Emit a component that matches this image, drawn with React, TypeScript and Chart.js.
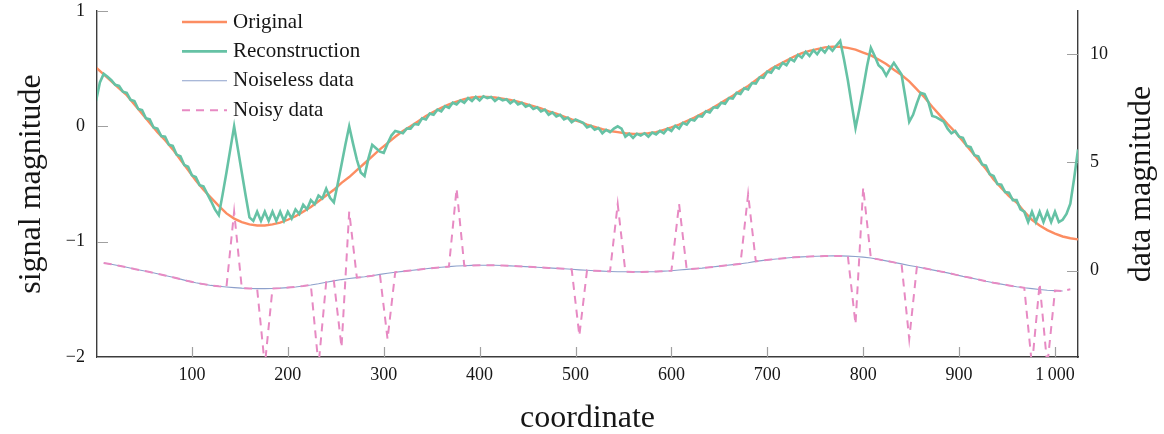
import React, { useEffect, useRef } from "react";
import { Chart, registerables } from "chart.js";

Chart.register(...registerables);

const FONT = "'Liberation Serif', 'DejaVu Serif', serif";

// ---- tick values ----
const xTickValues = [100, 200, 300, 400, 500, 600, 700, 800, 900, 1000];
const leftTickValues = [-2, -1, 0, 1];
const rightTickValues = [0, 5, 10];

// ---- series labels ----
const seriesLabels = ["Original", "Reconstruction", "Noiseless data", "Noisy data"];

// ---- Original signal (left axis), x = 0..1024 step 8 ----
const originalStart = 0;
const originalStep = 8;
const originalValues = [
  0.51, 0.45, 0.39, 0.33, 0.27, 0.19, 0.11, 0.03,
  -0.05, -0.12, -0.2, -0.29, -0.38, -0.47, -0.55, -0.62,
  -0.69, -0.755, -0.8, -0.83, -0.85, -0.86, -0.86, -0.85,
  -0.835, -0.81, -0.78, -0.74, -0.7, -0.65, -0.6, -0.55,
  -0.49, -0.44, -0.38, -0.32, -0.26, -0.2, -0.145, -0.09,
  -0.04, 0.0, 0.045, 0.09, 0.125, 0.16, 0.19, 0.215,
  0.235, 0.25, 0.255, 0.255, 0.25, 0.24, 0.23, 0.215,
  0.195, 0.175, 0.155, 0.13, 0.11, 0.085, 0.06, 0.04,
  0.015, -0.005, -0.025, -0.04, -0.05, -0.06, -0.065, -0.065,
  -0.06, -0.05, -0.03, -0.01, 0.015, 0.045, 0.075, 0.11,
  0.145, 0.185, 0.225, 0.265, 0.31, 0.35, 0.4, 0.45,
  0.5, 0.535, 0.57, 0.605, 0.635, 0.655, 0.67, 0.685,
  0.69, 0.69, 0.68, 0.665, 0.64, 0.615, 0.58, 0.54,
  0.49, 0.445, 0.39, 0.32, 0.25, 0.17, 0.095, 0.02,
  -0.05, -0.13, -0.21, -0.29, -0.37, -0.46, -0.535, -0.605,
  -0.66, -0.74, -0.81, -0.86, -0.9, -0.93, -0.955, -0.97,
  -0.98,
];

// ---- Reconstruction (left axis), x = 0..1024 step 4 ----
const reconStart = 0;
const reconStep = 4;
const reconstructionValues = [
  0.22, 0.38, 0.455, 0.43, 0.4, 0.36, 0.35, 0.3,
  0.29, 0.23, 0.22, 0.15, 0.14, 0.07, 0.06, -0.01,
  -0.02, -0.085, -0.09, -0.16, -0.17, -0.245, -0.26, -0.335,
  -0.35, -0.425, -0.44, -0.51, -0.52, -0.585, -0.65, -0.72,
  -0.77, -0.59, -0.4, -0.2, 0.0, -0.2, -0.4, -0.6,
  -0.79, -0.82, -0.74, -0.82, -0.74, -0.82, -0.74, -0.82,
  -0.74, -0.82, -0.74, -0.8, -0.72, -0.76, -0.68, -0.72,
  -0.64, -0.675, -0.6, -0.625, -0.54, -0.62, -0.66, -0.5,
  -0.33, -0.16, 0.0, -0.15, -0.29, -0.4, -0.43, -0.28,
  -0.16, -0.19, -0.22, -0.23, -0.15, -0.08, -0.04, -0.05,
  -0.06, -0.02, -0.02, 0.02, 0.015, 0.07, 0.06, 0.11,
  0.1, 0.145, 0.13, 0.175, 0.16, 0.205, 0.19, 0.225,
  0.205, 0.245, 0.22, 0.255, 0.225, 0.26, 0.245, 0.255,
  0.22, 0.245, 0.225, 0.235, 0.2, 0.225, 0.19, 0.205,
  0.17, 0.185, 0.15, 0.165, 0.13, 0.145, 0.1, 0.12,
  0.085, 0.1, 0.06, 0.075, 0.035, 0.06, 0.045, 0.03,
  -0.01, 0.005, -0.03, -0.015, -0.06, -0.03, -0.05, -0.02,
  0.0, -0.02, -0.09, -0.065, -0.1, -0.065, -0.08, -0.06,
  -0.09, -0.055, -0.07, -0.04, -0.06, -0.02, -0.04, 0.005,
  -0.02, 0.03, 0.015, 0.06, 0.05, 0.09, 0.085, 0.13,
  0.12, 0.165, 0.16, 0.205, 0.195, 0.245, 0.24, 0.29,
  0.28, 0.33, 0.32, 0.375, 0.37, 0.425, 0.42, 0.475,
  0.465, 0.515, 0.5, 0.55, 0.53, 0.585, 0.565, 0.62,
  0.595, 0.645, 0.61, 0.66, 0.625, 0.675, 0.64, 0.69,
  0.655, 0.7, 0.74, 0.58, 0.4, 0.19, -0.015, 0.15,
  0.33, 0.52, 0.68, 0.61, 0.53, 0.5, 0.44, 0.5,
  0.55, 0.5, 0.45, 0.25, 0.04, 0.1, 0.2, 0.29,
  0.28, 0.21, 0.09, 0.08, 0.06, 0.04, -0.02, -0.06,
  -0.04, -0.09, -0.1, -0.17, -0.18, -0.25, -0.26, -0.33,
  -0.34, -0.415, -0.43, -0.5, -0.505, -0.57, -0.575, -0.64,
  -0.64, -0.72, -0.74, -0.83, -0.74, -0.83, -0.74, -0.83,
  -0.74, -0.83, -0.74, -0.83, -0.81, -0.76, -0.67, -0.45,
  -0.2,
];

// ---- Noiseless data (right axis), x = 8..1008 step 8 ----
const dataStart = 8;
const dataStep = 8;
const noiselessValues = [
  0.35, 0.29, 0.22, 0.15, 0.07, 0.0, -0.07, -0.15,
  -0.23, -0.31, -0.4, -0.49, -0.57, -0.63, -0.69, -0.73,
  -0.76, -0.79, -0.815, -0.83, -0.84, -0.84, -0.83, -0.815,
  -0.79, -0.76, -0.72, -0.67, -0.61, -0.54, -0.48, -0.42,
  -0.37, -0.33, -0.29, -0.24, -0.18, -0.13, -0.08, -0.04,
  0.0, 0.04, 0.08, 0.12, 0.15, 0.18, 0.205, 0.22,
  0.235, 0.24, 0.24, 0.24, 0.23, 0.215, 0.2, 0.18,
  0.16, 0.14, 0.12, 0.1, 0.08, 0.055, 0.03, 0.01,
  -0.01, -0.03, -0.045, -0.055, -0.06, -0.065, -0.065, -0.06,
  -0.05, -0.03, -0.01, 0.02, 0.05, 0.08, 0.11, 0.15,
  0.19, 0.23, 0.27, 0.31, 0.36, 0.42, 0.47, 0.51,
  0.54, 0.58, 0.61, 0.63, 0.65, 0.66, 0.67, 0.675,
  0.675, 0.665, 0.65, 0.62, 0.575, 0.515, 0.445, 0.375,
  0.305, 0.235, 0.17, 0.1, 0.03, -0.04, -0.11, -0.19,
  -0.27, -0.34, -0.42, -0.5, -0.57, -0.63, -0.69, -0.75,
  -0.8, -0.84, -0.88, -0.91, -0.93, -0.95,
];

// ---- Noisy data (right axis), x = 8..1016 step 8 ----
const noisyValues = [
  0.35, 0.29, 0.22, 0.15, 0.07, 0.0, -0.07, -0.15,
  -0.23, -0.31, -0.4, -0.49, -0.57, -0.63, -0.69, -0.73,
  -0.76, 2.72, -0.815, -0.83, -0.84, -4.4, -0.83, -0.815,
  -0.79, -0.76, -0.72, -0.67, -4.4, -0.54, -0.48, -3.55,
  2.72, -0.33, -0.29, -0.24, -0.18, -3.17, -0.08, -0.04,
  0.0, 0.04, 0.08, 0.12, 0.15, 0.18, 3.79, 0.22,
  0.235, 0.24, 0.24, 0.24, 0.23, 0.215, 0.2, 0.18,
  0.16, 0.14, 0.12, 0.1, 0.08, 0.055, -3.01, 0.01,
  -0.01, -0.03, -0.045, 3.07, -0.06, -0.065, -0.065, -0.06,
  -0.05, -0.03, -0.01, 3.07, 0.05, 0.08, 0.11, 0.15,
  0.19, 0.23, 0.27, 0.31, 3.53, 0.42, 0.47, 0.51,
  0.54, 0.58, 0.61, 0.63, 0.65, 0.66, 0.67, 0.675,
  0.675, 0.665, -2.48, 3.84, 0.575, 0.515, 0.445, 0.375,
  0.305, -3.17, 0.17, 0.1, 0.03, -0.04, -0.11, -0.19,
  -0.27, -0.34, -0.42, -0.5, -0.57, -0.63, -0.69, -0.75,
  -0.8, -4.4, -0.6, -4.4, -0.93, -0.95, -0.87,
];

const toPoints = (start: number, step: number, values: number[]) =>
  values.map((v, i) => ({ x: start + i * step, y: v }));

const fmtX = (v: number) => (v >= 1000 ? String(v).replace(/(\d)(\d{3})$/, "$1\u2009$2") : String(v));
const fmtY = (v: number) => (v < 0 ? "\u2212" + Math.abs(v) : String(v));

const AXIS_COLOR = "#3c3c3c";
const TICK_COLOR = "#a0a0a0";
const TEXT_COLOR = "#161616";

const decorPlugin = {
  id: "decor",
  beforeDatasetsDraw(chart: any) {
    const { ctx, chartArea: ca, scales } = chart;
    ctx.save();
    ctx.strokeStyle = TICK_COLOR;
    ctx.lineWidth = 1.2;
    ctx.beginPath();
    xTickValues.forEach((v) => {
      const px = Math.round(scales.x.getPixelForValue(v)) + 0.5;
      ctx.moveTo(px, ca.bottom);
      ctx.lineTo(px, ca.bottom - 10);
    });
    leftTickValues.forEach((v) => {
      const py = Math.round(scales.y.getPixelForValue(v)) + 0.5;
      ctx.moveTo(ca.left, py);
      ctx.lineTo(ca.left + 11, py);
    });
    rightTickValues.forEach((v) => {
      const py = Math.round(scales.y2.getPixelForValue(v)) + 0.5;
      ctx.moveTo(ca.right, py);
      ctx.lineTo(ca.right - 11, py);
    });
    ctx.stroke();
    ctx.restore();
  },
  afterDraw(chart: any) {
    const { ctx, chartArea: ca } = chart;
    ctx.save();
    // axis titles
    ctx.fillStyle = TEXT_COLOR;
    ctx.font = `32px ${FONT}`;
    ctx.textAlign = "center";
    ctx.textBaseline = "alphabetic";
    ctx.fillText("coordinate", (ca.left + ca.right) / 2, 427);
    const cy = (ca.top + ca.bottom) / 2;
    ctx.save();
    ctx.translate(40, cy);
    ctx.rotate(-Math.PI / 2);
    ctx.fillText("signal magnitude", 0, 0);
    ctx.restore();
    ctx.save();
    ctx.translate(1150, cy);
    ctx.rotate(-Math.PI / 2);
    ctx.fillText("data magnitude", 0, 0);
    ctx.restore();

    // legend
    ctx.font = `21px ${FONT}`;
    ctx.textAlign = "left";
    chart.data.datasets.forEach((ds: any, i: number) => {
      const y = ca.top + 11 + i * 29.4;
      ctx.save();
      ctx.strokeStyle = ds.borderColor;
      ctx.lineWidth = ds.borderWidth;
      ctx.setLineDash(ds.borderDash || []);
      ctx.beginPath();
      ctx.moveTo(ca.left + 85, y);
      ctx.lineTo(ca.left + 130, y);
      ctx.stroke();
      ctx.restore();
      ctx.fillStyle = TEXT_COLOR;
      ctx.fillText(ds.label, ca.left + 136, y + 5.5);
    });
    ctx.restore();
  },
};

const fitVertical = (width: number) => (s: any) => {
  s.width = width;
  s.paddingTop = 0;
  s.paddingBottom = 0;
};

export default function App() {
  const ref = useRef<HTMLCanvasElement>(null);
  useEffect(() => {
    document.body.style.margin = "0";
    const tickFont = { family: FONT, size: 18 };
    const chart = new Chart(ref.current as HTMLCanvasElement, {
      type: "line",
      data: {
        datasets: [
          {
            label: seriesLabels[0],
            data: toPoints(originalStart, originalStep, originalValues),
            borderColor: "#fc8d62",
            borderWidth: 2.4,
            pointRadius: 0,
            yAxisID: "y",
            order: 4,
          },
          {
            label: seriesLabels[1],
            data: toPoints(reconStart, reconStep, reconstructionValues),
            borderColor: "#66c2a5",
            borderWidth: 2.6,
            pointRadius: 0,
            yAxisID: "y",
            order: 3,
          },
          {
            label: seriesLabels[2],
            data: toPoints(dataStart, dataStep, noiselessValues),
            borderColor: "#8da0cb",
            borderWidth: 1.1,
            pointRadius: 0,
            yAxisID: "y2",
            order: 2,
          },
          {
            label: seriesLabels[3],
            data: toPoints(dataStart, dataStep, noisyValues),
            borderColor: "#e78ac3",
            borderWidth: 2,
            borderDash: [8, 6],
            pointRadius: 0,
            yAxisID: "y2",
            order: 1,
          },
        ],
      } as any,
      options: {
        animation: false,
        responsive: false,
        maintainAspectRatio: false,
        layout: { padding: { top: 11, left: 0, right: 0, bottom: 0 } },
        plugins: { legend: { display: false }, tooltip: { enabled: false } },
        elements: { line: { tension: 0 } },
        scales: {
          x: {
            type: "linear",
            position: "bottom",
            min: 1,
            max: 1024,
            grid: { display: false, drawTicks: false },
            border: { display: true, color: AXIS_COLOR, width: 1.4 },
            ticks: { font: tickFont, color: TEXT_COLOR, padding: 7, callback: (v: any) => fmtX(Number(v)) },
            afterBuildTicks: (s: any) => {
              s.ticks = xTickValues.map((v) => ({ value: v }));
            },
            afterFit: (s: any) => {
              s.height = 77;
              s.paddingLeft = 0;
              s.paddingRight = 0;
            },
          },
          y: {
            type: "linear",
            position: "left",
            min: -2,
            max: 1,
            grid: { display: false, drawTicks: false },
            border: { display: true, color: AXIS_COLOR, width: 1.4 },
            ticks: { font: tickFont, color: TEXT_COLOR, padding: 12, callback: (v: any) => fmtY(Number(v)) },
            afterBuildTicks: (s: any) => {
              s.ticks = leftTickValues.map((v) => ({ value: v }));
            },
            afterFit: fitVertical(97),
          },
          y2: {
            type: "linear",
            position: "right",
            min: -4,
            max: 12,
            grid: { display: false, drawTicks: false },
            border: { display: true, color: AXIS_COLOR, width: 1.4 },
            ticks: { font: tickFont, color: TEXT_COLOR, padding: 12, callback: (v: any) => fmtY(Number(v)) },
            afterBuildTicks: (s: any) => {
              s.ticks = rightTickValues.map((v) => ({ value: v }));
            },
            afterFit: fitVertical(86),
          },
        },
      } as any,
      plugins: [decorPlugin],
    });
    return () => chart.destroy();
  }, []);
  return (
    <canvas
      ref={ref}
      width={1164}
      height={434}
      style={{ display: "block", width: "1164px", height: "434px" }}
    />
  );
}
